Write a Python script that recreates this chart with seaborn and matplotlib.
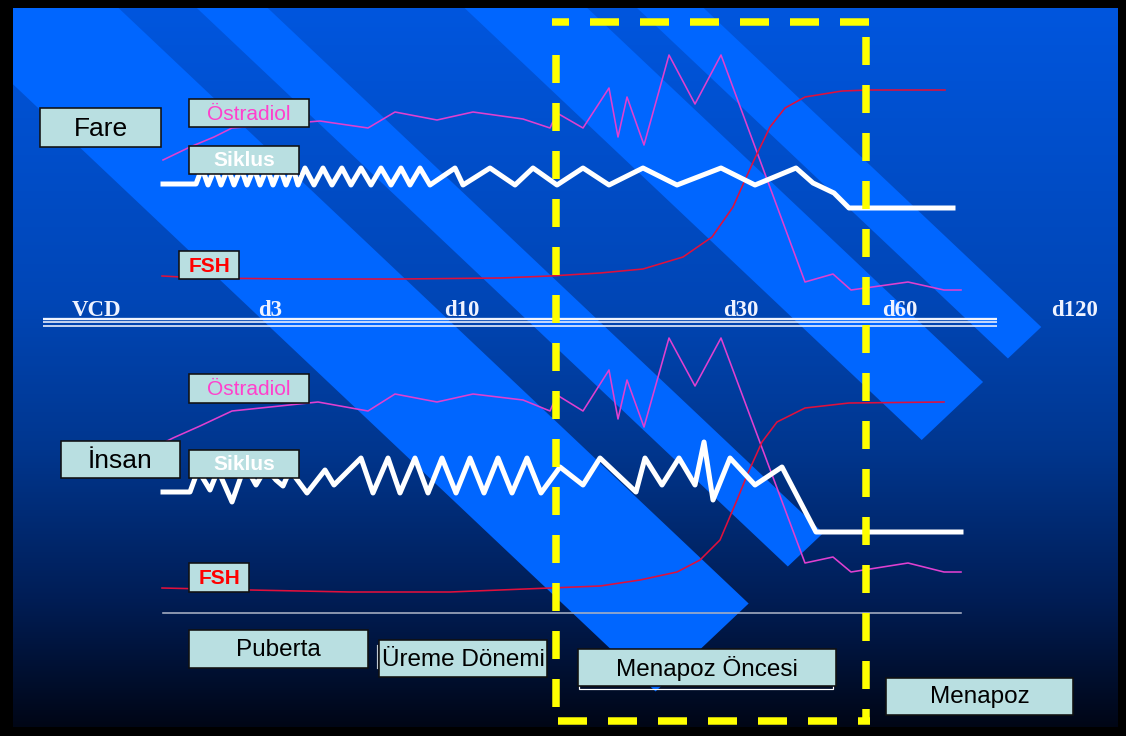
import numpy as np
import matplotlib
matplotlib.use('Agg')
import matplotlib.pyplot as plt
import seaborn as sns
from matplotlib.patches import Rectangle, Polygon

W, H = 1126, 736
plt.rcParams['lines.scale_dashes'] = False
PT = 0.72  # pixels -> points at 100 dpi

# ---------------- data (slide pixel coordinates) ----------------
# panel and background gradient
panel = (13, 8, 1118, 727)
grad_y = [8, 300, 450, 600, 727]
grad_rgb = [(0, 86, 222), (0, 70, 182), (0, 54, 142), (0, 29, 85), (0, 6, 22)]

# diagonal light stripes: (p_low, p_high) with p = y - slope*x, all cut at q = y + slope*x
stripe_slope = 0.945
stripe_cut = 1311
stripes = [(-104, 72), (-245, -178), (-547, -431), (-657, -594)]

# time axis
day_labels = ['VCD', 'd3', 'd10', 'd30', 'd60', 'd120']
day_pos = [97, 270, 462, 741, 900, 1075]

# Fare (rat)
fare_e2_x = [163, 190, 214, 232, 320, 368, 395, 437, 473, 523, 550, 557, 583, 609, 618, 627,
             644, 669, 695, 721, 805, 833, 851, 908, 944, 961]
fare_e2_y = [160, 147, 137, 128, 121, 128, 112, 120, 112, 119, 128, 113, 128, 88, 137, 97,
             145, 55, 104, 55, 282, 274, 290, 282, 290, 290]
fare_fsh_x = [162, 200, 300, 400, 500, 550, 600, 643, 683, 712, 733, 745, 755, 770, 785, 805,
              842, 870, 945]
fare_fsh_y = [276, 278, 279, 279, 278, 276, 273, 269, 257, 237, 207, 180, 158, 127, 108, 97,
              91, 90, 90]
fare_cyc_x = [163, 196, 202, 208, 215, 221, 228, 234, 241, 247, 254, 260, 267, 273, 280, 286,
              293, 298, 305, 314, 323, 332, 342, 351, 361, 371, 381, 391, 401, 410, 420, 430,
              455, 463, 490, 515, 533, 557, 583, 609, 643, 677, 721, 755, 796, 813, 834, 849,
              953]
fare_cyc_y = [184, 184, 168, 185, 168, 185, 168, 185, 168, 185, 168, 185, 168, 185, 168, 185,
              168, 185, 168, 185, 168, 185, 168, 185, 168, 185, 168, 185, 168, 185, 168, 185,
              168, 185, 168, 185, 168, 185, 168, 185, 168, 185, 168, 185, 168, 183, 193, 208,
              208]

# İnsan (human)
insan_e2_x = [163, 173, 200, 232, 318, 368, 395, 437, 473, 523, 550, 557, 583, 609, 618, 627,
              644, 669, 695, 721, 805, 833, 851, 908, 944, 961]
insan_e2_y = [443, 438, 426, 411, 402, 411, 394, 402, 394, 400, 411, 395, 411, 370, 419, 380,
              427, 338, 386, 338, 563, 557, 572, 563, 572, 572]
insan_fsh_x = [162, 250, 350, 450, 550, 600, 640, 677, 700, 720, 737, 748, 762, 777, 805, 849, 944]
insan_fsh_y = [588, 590, 592, 592, 588, 586, 580, 572, 560, 540, 500, 473, 442, 422, 408, 403, 402]
insan_cyc_x = [163, 190, 198, 210, 218, 232, 245, 256, 266, 276, 283, 290, 307, 325, 334, 361,
               373, 388, 400, 415, 428, 442, 456, 470, 484, 498, 512, 527, 541, 560, 583, 600,
               636, 645, 662, 679, 695, 704, 713, 730, 755, 782, 816, 961]
insan_cyc_y = [492, 492, 470, 490, 470, 502, 465, 485, 468, 480, 486, 470, 493, 470, 485, 458,
               493, 458, 493, 458, 493, 458, 493, 458, 493, 458, 493, 458, 493, 467, 485, 458,
               492, 458, 485, 458, 485, 442, 500, 458, 485, 467, 532, 532]

# label boxes: text, (x0, y0, x1, y1), text colour, weight, size(pt)
boxes = [
    ('Fare', (40, 108, 161, 147), 'black', 'normal', 19),
    ('Östradiol', (189, 99, 309, 127), '#ff40cc', 'normal', 15),
    ('Siklus', (189, 146, 299, 174), 'white', 'bold', 15),
    ('FSH', (179, 251, 239, 279), '#ff0000', 'bold', 15),
    ('İnsan', (61, 441, 180, 478), 'black', 'normal', 19),
    ('Östradiol', (189, 374, 309, 403), '#ff40cc', 'normal', 15),
    ('Siklus', (189, 450, 299, 478), 'white', 'bold', 15),
    ('FSH', (189, 563, 249, 592), '#ff0000', 'bold', 15),
    ('Puberta', (189, 630, 368, 668), 'black', 'normal', 17.5),
    ('Üreme Dönemi', (379, 640, 547, 677), 'black', 'normal', 17.5),
    ('Menapoz Öncesi', (578, 649, 836, 686), 'black', 'normal', 17.5),
    ('Menapoz', (886, 678, 1073, 715), 'black', 'normal', 17.5),
]

# premenopause frame (yellow dashed)
frame_left, frame_right, frame_top, frame_bottom = 555.5, 866, 21.5, 720.5

# ---------------- figure ----------------
fig = plt.figure(figsize=(W / 100, H / 100), dpi=100, facecolor='black')
ax = fig.add_axes([0, 0, 1, 1])
ax.set_facecolor('black')

# background gradient
ys = np.linspace(panel[1], panel[3], 500)
rgb = np.array(grad_rgb) / 255.0
img = np.stack([np.interp(ys, grad_y, rgb[:, i]) for i in range(3)], axis=-1)[:, None, :]
ax.imshow(img, extent=[panel[0], panel[2], panel[3], panel[1]], aspect='auto', zorder=0)

clip = Rectangle((panel[0], panel[1]), panel[2] - panel[0], panel[3] - panel[1],
                 transform=ax.transData, facecolor='none', edgecolor='none')
ax.add_patch(clip)


def corner(p, q, m=stripe_slope):
    return ((q - p) / (2 * m), (q + p) / 2)


for p_lo, p_hi in stripes:
    pts = [corner(p_lo, -900), corner(p_hi, -900), corner(p_hi, stripe_cut), corner(p_lo, stripe_cut)]
    poly = Polygon(pts, closed=True, facecolor='#0066ff', edgecolor='none', zorder=1)
    ax.add_patch(poly)
    poly.set_clip_path(clip)

# time axis (triple white rule) and labels
for yy, lw in [(318.8, 2.3), (322.2, 1.6), (325.5, 1.6)]:
    ax.plot([43, 997], [yy, yy], color='#f0f4ff', lw=lw * PT, solid_capstyle='butt', zorder=2)
for lab, xp in zip(day_labels, day_pos):
    ax.text(xp, 316, lab, ha='center', va='baseline', color='#eef2ff', fontsize=16.5,
            fontweight='bold', family='Liberation Serif', zorder=3)

# separator under human panel
ax.plot([163, 961], [613, 613], color='#a8b0c4', lw=1.6 * PT, zorder=2)

# curves
curves = [
    (fare_e2_x, fare_e2_y, '#e040d0', 1.6),
    (insan_e2_x, insan_e2_y, '#e040d0', 1.6),
    (fare_fsh_x, fare_fsh_y, '#e0103c', 1.6),
    (insan_fsh_x, insan_fsh_y, '#e0103c', 1.6),
    (fare_cyc_x, fare_cyc_y, 'white', 5.0),
    (insan_cyc_x, insan_cyc_y, 'white', 5.0),
]
for cx, cy, col, lw in curves:
    sns.lineplot(x=cx, y=cy, sort=False, estimator=None, color=col, linewidth=lw * PT, ax=ax,
                 zorder=3)

# yellow dashed frame
ylw = dict(color='#ffff00', lw=7.5 * PT, solid_capstyle='butt', dash_capstyle='butt', zorder=4)
ax.plot([552, 869.5], [frame_top, frame_top], linestyle=(12 * PT, (29 * PT, 21 * PT)), **ylw)
ax.plot([frame_left, frame_left], [35, 707], linestyle=(28 * PT, (28 * PT, 20 * PT)), **ylw)
ax.plot([frame_right, frame_right], [37, 724], linestyle=(0, (28 * PT, 20 * PT)), **ylw)
ax.plot([558, 869.5], [frame_bottom, frame_bottom], linestyle=(0, (29 * PT, 21 * PT)), **ylw)

# small outline details
ax.add_patch(Rectangle((579, 655), 254, 34, facecolor='none', edgecolor='white', lw=1.2 * PT, zorder=5))
ax.plot([377, 377], [645, 668], color='#c0c8d0', lw=1.2 * PT, zorder=5)

# label boxes
for text, (x0, y0, x1, y1), tcol, wt, fs in boxes:
    ax.add_patch(Rectangle((x0, y0), x1 - x0, y1 - y0, facecolor='#b9dfe1', edgecolor='#111111',
                           lw=1.6 * PT, zorder=6))
    ax.text((x0 + x1) / 2, (y0 + y1) / 2 + 1, text, ha='center', va='center', color=tcol,
            fontsize=fs, fontweight=wt, family='Liberation Sans', zorder=7)

ax.set_xlim(0, W)
ax.set_ylim(H, 0)
ax.axis('off')
fig.savefig('out.png', dpi=100, facecolor='black')
